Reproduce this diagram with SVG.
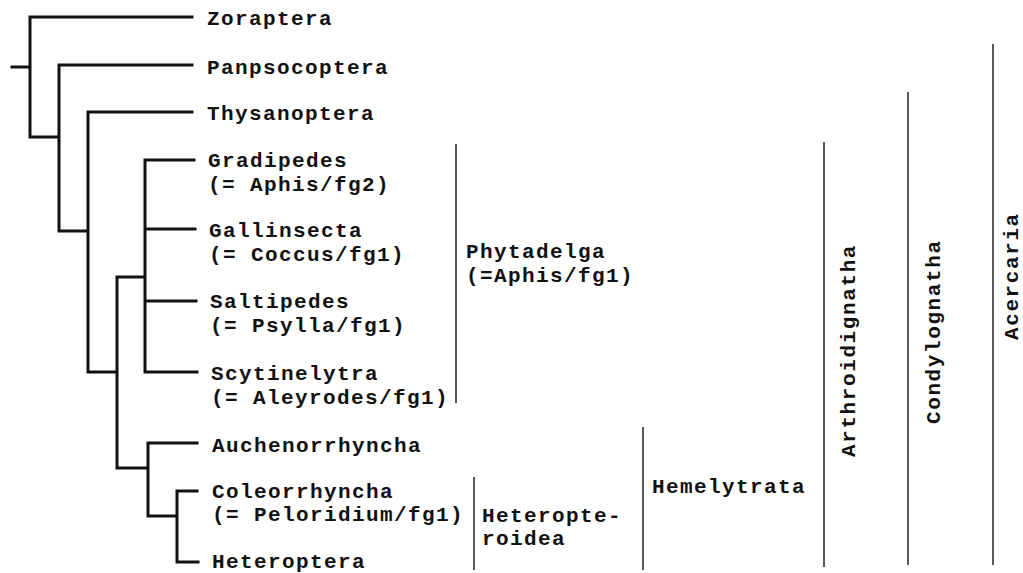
<svg xmlns="http://www.w3.org/2000/svg" width="1023" height="573" viewBox="0 0 1023 573">
<style>
.t{font-family:"Liberation Mono","DejaVu Sans Mono",monospace;font-weight:bold;font-size:21px;letter-spacing:1.4px;fill:#111}
.v{letter-spacing:1.6px}
.tree{stroke:#111;stroke-width:3;fill:none;stroke-linecap:square}
.br{stroke:#222;stroke-width:1.5;fill:none}
</style>
<rect width="1023" height="573" fill="#fff"/>
<g id="connectors">
<path class="tree" d="M12,67H30 M30,17V137 M30,17H192 M30,137H59 M59,65V231 M59,65H192 M59,231H88 M88,112V372 M88,112H192 M88,372H117 M117,277V468 M117,277H145 M145,160V372 M145,160H194 M145,229H195 M145,301H196 M145,372H197 M117,468H148 M148,443V516 M148,443H197 M148,516H177 M177,491V562 M177,491H197 M177,562H198"/>
</g>
<g id="n-zoraptera"><text class="t" x="207" y="25">Zoraptera</text></g>
<g id="n-panpsocoptera"><text class="t" x="207" y="74">Panpsocoptera</text></g>
<g id="n-thysanoptera"><text class="t" x="207" y="120">Thysanoptera</text></g>
<g id="n-gradipedes"><text class="t" x="208" y="167">Gradipedes</text><text class="t" x="208" y="191">(= Aphis/fg2)</text></g>
<g id="n-gallinsecta"><text class="t" x="209" y="237">Gallinsecta</text><text class="t" x="209" y="261">(= Coccus/fg1)</text></g>
<g id="n-saltipedes"><text class="t" x="210" y="308">Saltipedes</text><text class="t" x="210" y="332">(= Psylla/fg1)</text></g>
<g id="n-scytinelytra"><text class="t" x="211" y="380">Scytinelytra</text><text class="t" x="211" y="404">(= Aleyrodes/fg1)</text></g>
<g id="n-auchenorrhyncha"><text class="t" x="212" y="452">Auchenorrhyncha</text></g>
<g id="n-coleorrhyncha"><text class="t" x="212" y="498">Coleorrhyncha</text><text class="t" x="212" y="521">(= Peloridium/fg1)</text></g>
<g id="n-heteroptera"><text class="t" x="212" y="568">Heteroptera</text></g>
<g id="g-phytadelga"><path class="br" d="M456,144V403"/><text class="t" x="466" y="258">Phytadelga</text><text class="t" x="466" y="282">(=Aphis/fg1)</text></g>
<g id="g-heteropteroidea"><path class="br" d="M474,477V570"/><text class="t" x="482" y="522">Heteropte-</text><text class="t" x="482" y="545">roidea</text></g>
<g id="g-hemelytrata"><path class="br" d="M643,427V570"/><text class="t" x="652" y="493">Hemelytrata</text></g>
<g id="g-arthroidignatha"><path class="br" d="M824,142V567"/><text class="t v" transform="translate(855,457) rotate(-90)">Arthroidignatha</text></g>
<g id="g-condylognatha"><path class="br" d="M908,92V565"/><text class="t v" transform="translate(940,424) rotate(-90)">Condylognatha</text></g>
<g id="g-acercaria"><path class="br" d="M993,44V565"/><text class="t v" transform="translate(1018,340) rotate(-90)">Acercaria</text></g>
</svg>
